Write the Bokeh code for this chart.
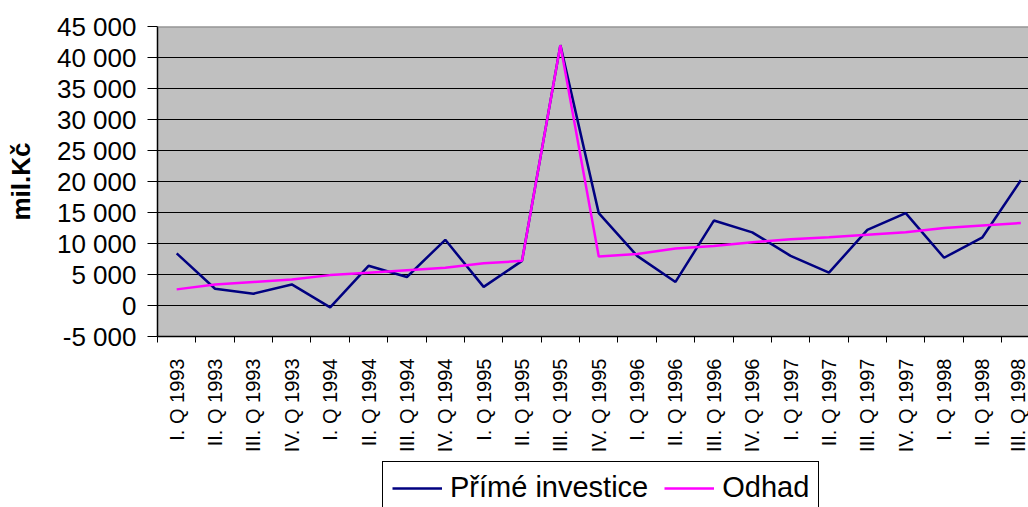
import math

from bokeh.plotting import figure
from bokeh.layouts import column
from bokeh.models import Range1d, FixedTicker, Legend, LegendItem, Span
from bokeh.embed import file_html
from bokeh.resources import INLINE

# Quarterly direct investment (mil. Kč) and the fitted estimate
quarters = [
    "I. Q 1993", "II. Q 1993", "III. Q 1993", "IV. Q 1993",
    "I. Q 1994", "II. Q 1994", "III. Q 1994", "IV. Q 1994",
    "I. Q 1995", "II. Q 1995", "III. Q 1995", "IV. Q 1995",
    "I. Q 1996", "II. Q 1996", "III. Q 1996", "IV. Q 1996",
    "I. Q 1997", "II. Q 1997", "III. Q 1997", "IV. Q 1997",
    "I. Q 1998", "II. Q 1998", "III. Q 1998",
]
prime_investice = [8400, 2700, 1900, 3400, -300, 6400, 4600, 10600, 3000, 7200,
                   42000, 14900, 8000, 3800, 13700, 11800, 8000, 5300, 12200,
                   14900, 7700, 11000, 20200]
odhad = [2600, 3400, 3800, 4200, 4900, 5300, 5700, 6100, 6800, 7200,
         42000, 7900, 8300, 9200, 9600, 10200, 10700, 11000, 11400,
         11800, 12500, 12900, 13300]
y_ticks = [-5000, 0, 5000, 10000, 15000, 20000, 25000, 30000, 35000, 40000, 45000]
y_tick_labels = ["-5 000", "0", "5 000", "10 000", "15 000", "20 000",
                 "25 000", "30 000", "35 000", "40 000", "45 000"]
series_names = ["Přímé investice", "Odhad"]
series_colors = ["#000080", "#FF00FF"]

FONT = "Liberation Sans"

# categories sit in the middle of unit-wide slots; ticks mark slot borders
xs = [i + 0.5 for i in range(len(quarters))]
borders = list(range(len(quarters) + 1))

p = figure(width=1028, height=455, output_backend="svg", toolbar_location=None,
           x_range=Range1d(0, 22.7), y_range=Range1d(-5000, 45000),
           min_border_left=157, min_border_right=0, min_border_top=26,
           min_border_bottom=119)
p.background_fill_color = "#C0C0C0"
p.border_fill_color = "white"
p.outline_line_color = None

p.xgrid.visible = False
p.ygrid.ticker = FixedTicker(ticks=y_ticks[1:-1])
p.ygrid.grid_line_color = "black"
p.ygrid.grid_line_width = 1

# grey top edge of the plotting area
p.add_layout(Span(location=y_ticks[-1], dimension="width",
                  line_color="#808080", line_width=2))

# y axis
p.yaxis.ticker = FixedTicker(ticks=y_ticks)
p.yaxis.major_label_overrides = dict(zip(y_ticks, y_tick_labels))
p.yaxis.major_tick_out = 10
p.yaxis.major_tick_in = 0
p.yaxis.minor_tick_out = 0
p.yaxis.minor_tick_in = 0
p.yaxis.axis_line_color = "black"
p.yaxis.axis_line_width = 1.5
p.yaxis.major_tick_line_color = "black"
p.yaxis.major_label_text_font = FONT
p.yaxis.major_label_text_font_size = "26px"
p.yaxis.major_label_text_color = "black"
p.yaxis.major_label_standoff = 11
p.yaxis.axis_label = "mil.Kč"
p.yaxis.axis_label_text_font = FONT
p.yaxis.axis_label_text_font_style = "bold"
p.yaxis.axis_label_text_font_size = "26px"
p.yaxis.axis_label_text_color = "black"
p.yaxis.axis_label_standoff = 18

# x axis
p.xaxis.ticker = FixedTicker(ticks=xs, minor_ticks=borders)
p.xaxis.major_label_overrides = dict(zip(xs, quarters))
p.xaxis.major_tick_out = 0
p.xaxis.major_tick_in = 0
p.xaxis.minor_tick_out = 6
p.xaxis.minor_tick_in = 0
p.xaxis.minor_tick_line_color = "black"
p.xaxis.axis_line_color = "black"
p.xaxis.axis_line_width = 1.5
p.xaxis.major_label_orientation = math.pi / 2
p.xaxis.major_label_text_font = FONT
p.xaxis.major_label_text_font_size = "20px"
p.xaxis.major_label_text_color = "black"
p.xaxis.major_label_standoff = 16

series = [prime_investice, odhad]
for vals, c in zip(series, series_colors):
    p.line(xs, vals, line_color=c, line_width=2.5)

# legend strip under the chart; its ranges keep the series themselves out of view
lg = figure(width=1028, height=52, output_backend="svg", toolbar_location=None,
            x_range=Range1d(-3, -2), y_range=Range1d(0, 1),
            x_axis_location=None, y_axis_location=None, min_border=0)
lg.grid.visible = False
lg.outline_line_color = None
lg.background_fill_color = "white"
lg.border_fill_color = "white"
keys = [lg.line(xs, vals, line_color=c, line_width=2.5)
        for vals, c in zip(series, series_colors)]

legend = Legend(
    items=[LegendItem(label=n, renderers=[r]) for n, r in zip(series_names, keys)],
    orientation="horizontal", location=(225, -7),
    border_line_color="black", border_line_width=1, border_line_alpha=1,
    background_fill_color="white", background_fill_alpha=1,
    glyph_width=50, label_standoff=8, spacing=16, padding=9, margin=0,
    label_text_font=FONT, label_text_font_size="29px", label_text_color="black",
)
lg.add_layout(legend)

layout = column(p, lg, spacing=0)

with open("out.html", "w") as f:
    f.write(file_html(layout, INLINE))
